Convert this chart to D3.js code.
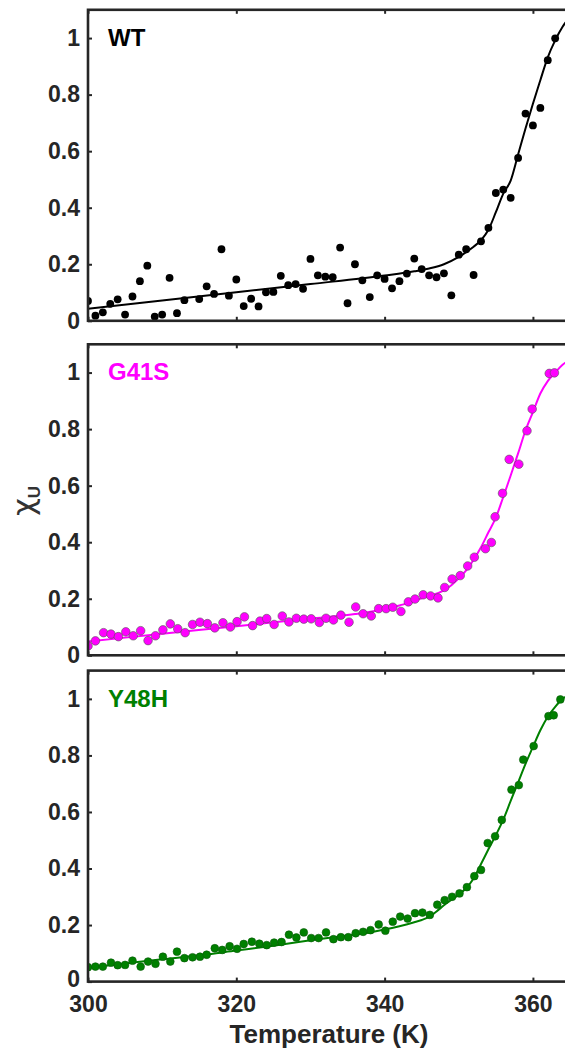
<!DOCTYPE html>
<html>
<head>
<meta charset="utf-8">
<script src="https://cdn.jsdelivr.net/npm/d3@7"></script>
<style>
  html, body { margin: 0; padding: 0; background: #fff; }
  svg { display: block; }
  text { font-family: "Liberation Sans", Arial, sans-serif; }
</style>
</head>
<body>
<svg id="chart" width="565" height="1051"></svg>
<script>
// ---------------- DATA ----------------
const panelNames = ["WT", "G41S", "Y48H"];
const yTicks = [0, 0.2, 0.4, 0.6, 0.8, 1];
const yTickLabels = ["0", "0.2", "0.4", "0.6", "0.8", "1"];
const xTicks = [300, 320, 340, 360];
const xTickLabels = ["300", "320", "340", "360"];
const xLabel = "Temperature (K)";

// WT measured points
const wtT = [300,301,302,303,304,305,306,307,308,309,310,311,312,313,315,316,317,318,319,320,321,322,323,324,325,326,327,328,329,330,331,332,333,334,335,336,337,338,339,340,341,342,343,344,345,346,347,348,349,350,351,352,353,354,355,356,357,358,359,360,361,362,363];
const wtX = [0.070,0.018,0.030,0.060,0.076,0.022,0.086,0.140,0.195,0.015,0.022,0.152,0.027,0.073,0.077,0.122,0.095,0.253,0.089,0.146,0.052,0.078,0.051,0.101,0.102,0.159,0.126,0.130,0.113,0.219,0.161,0.156,0.154,0.259,0.062,0.200,0.143,0.084,0.161,0.148,0.115,0.140,0.167,0.220,0.183,0.161,0.154,0.168,0.090,0.234,0.253,0.162,0.281,0.329,0.452,0.464,0.435,0.576,0.733,0.691,0.753,0.922,0.999];
// WT fitted curve
const wtFitT = [300,310,320,330,340,344,346,348,350,352,353,354,355,356,357,358,359,360,361,362,363,364,365];
const wtFitX = [0.043,0.072,0.101,0.130,0.160,0.175,0.185,0.200,0.226,0.262,0.285,0.322,0.384,0.450,0.496,0.588,0.680,0.768,0.851,0.932,0.992,1.040,1.075];

// G41S measured points
const g41sT = [300.0,301.0,302.1,303.1,304.1,305.1,306.1,307.1,308.1,309.1,310.1,311.1,312.1,313.1,314.1,315.1,316.1,317.1,318.2,319.2,320.1,321.1,322.2,323.2,324.1,325.1,326.2,327.1,328.1,329.1,330.1,331.2,332.1,333.1,334.1,335.2,336.1,337.1,338.2,339.2,340.2,341.1,342.2,343.2,344.1,345.2,346.2,347.2,348.1,349.1,350.2,351.2,352.1,353.6,354.4,354.9,355.9,356.8,358.1,359.2,359.9,362.2,362.9];
const g41sX = [0.033,0.051,0.080,0.075,0.066,0.083,0.069,0.087,0.052,0.069,0.090,0.111,0.094,0.080,0.109,0.117,0.112,0.097,0.115,0.100,0.119,0.136,0.105,0.121,0.130,0.109,0.139,0.118,0.131,0.128,0.129,0.116,0.131,0.125,0.142,0.117,0.171,0.147,0.139,0.165,0.165,0.170,0.155,0.189,0.199,0.214,0.210,0.203,0.240,0.270,0.282,0.316,0.347,0.377,0.399,0.490,0.573,0.693,0.676,0.794,0.871,0.997,0.999];
// G41S fitted curve
const g41sFitT = [300,310,320,330,336,340,342,344,346,348,349,350,351,352,353,354,355,356,357,358,359,360,361,362,363,364,365];
const g41sFitX = [0.049,0.076,0.103,0.130,0.146,0.163,0.176,0.193,0.210,0.230,0.248,0.272,0.300,0.338,0.382,0.435,0.487,0.560,0.636,0.714,0.795,0.860,0.926,0.970,1.000,1.028,1.045];

// Y48H measured points
const y48hT = [300.0,301.0,302.0,303.1,304.0,305.0,306.0,307.1,308.1,309.1,310.1,311.1,312.0,313.0,314.1,315.1,316.0,317.1,318.1,319.1,320.1,321.0,322.1,323.1,324.1,325.1,326.1,327.1,328.1,329.1,330.1,331.1,332.1,333.1,334.1,335.1,336.1,337.1,338.1,339.2,340.1,341.1,342.1,343.1,344.1,345.1,346.1,347.1,348.1,349.1,350.1,351.1,352.1,353.0,353.9,354.9,355.8,357.1,358.1,358.7,360.1,362.1,362.8,363.7];
const y48hX = [0.051,0.053,0.053,0.067,0.058,0.059,0.074,0.053,0.071,0.063,0.088,0.071,0.106,0.083,0.086,0.088,0.095,0.118,0.112,0.125,0.116,0.133,0.141,0.134,0.129,0.138,0.140,0.166,0.156,0.174,0.154,0.154,0.174,0.150,0.157,0.157,0.171,0.176,0.182,0.202,0.180,0.212,0.230,0.223,0.242,0.244,0.236,0.272,0.288,0.300,0.312,0.334,0.373,0.395,0.490,0.514,0.572,0.679,0.695,0.785,0.833,0.939,0.942,0.998];
// Y48H fitted curve
const y48hFitT = [300,305,310,315,320,325,330,335,338,340,342,344,345,346,347,348,349,350,351,352,353,354,355,356,357,358,359,360,361,362,363,364,365];
const y48hFitX = [0.049,0.064,0.079,0.093,0.110,0.127,0.146,0.163,0.174,0.184,0.196,0.210,0.218,0.229,0.248,0.270,0.289,0.307,0.331,0.365,0.416,0.468,0.518,0.573,0.639,0.704,0.770,0.830,0.889,0.937,0.972,1.000,1.015];

// ---------------- LAYOUT ----------------
const svg = d3.select("#chart");
const left = 88, right = 570;
const panelTops = [9.8, 344.3, 670.6];
const panelH = 311;
const colors = ["#000000", "#ff00ff", "#008000"];
const axisColor = "#262626";
const tickFont = 23;

const x = d3.scaleLinear().domain([300, 365]).range([left, right]);

const series = [
  {name: panelNames[0], T: wtT, X: wtX, fT: wtFitT, fX: wtFitX, color: colors[0], r: 3.9, stroke: "none"},
  {name: panelNames[1], T: g41sT, X: g41sX, fT: g41sFitT, fX: g41sFitX, color: colors[1], r: 4.3, stroke: "#555"},
  {name: panelNames[2], T: y48hT, X: y48hX, fT: y48hFitT, fX: y48hFitX, color: colors[2], r: 3.9, stroke: "#0a5a0a"}
];

series.forEach((s, i) => {
  const top = panelTops[i];
  const bottom = top + panelH;
  const y = d3.scaleLinear().domain([0, 1.1]).range([bottom, top]);
  const g = svg.append("g");

  const clipId = "clip" + i;
  svg.append("defs").append("clipPath").attr("id", clipId)
    .append("rect").attr("x", left).attr("y", top).attr("width", right - left).attr("height", panelH);

  const plot = g.append("g").attr("clip-path", `url(#${clipId})`);

  // fit line
  const line = d3.line().x((d) => x(d[0])).y((d) => y(d[1])).curve(d3.curveMonotoneX);
  plot.append("path")
    .datum(s.fT.map((t, k) => [t, s.fX[k]]))
    .attr("d", line)
    .attr("fill", "none")
    .attr("stroke", s.color)
    .attr("stroke-width", 2);

  // points
  plot.selectAll("circle")
    .data(s.T.map((t, k) => [t, s.X[k]]))
    .join("circle")
    .attr("cx", (d) => x(d[0]))
    .attr("cy", (d) => y(d[1]))
    .attr("r", s.r)
    .attr("fill", s.color)
    .attr("stroke", s.stroke)
    .attr("stroke-width", s.stroke === "none" ? 0 : 0.6);

  // axes
  const yAx = d3.axisLeft(y).tickValues(yTicks).tickFormat((d, k) => yTickLabels[k])
    .tickSizeInner(-4).tickSizeOuter(0).tickPadding(8);
  const gy = g.append("g").attr("transform", `translate(${left},0)`).call(yAx);
  gy.select(".domain").remove();
  gy.selectAll("line").attr("stroke", axisColor).attr("stroke-width", 2);
  gy.selectAll("text").attr("fill", axisColor).attr("font-size", tickFont).attr("font-weight", "bold")
    .attr("font-family", "Liberation Sans, Arial, sans-serif");
  if (i === 2) {
    // nudge the bottom "0" slightly up so it clears the "300" below
    gy.selectAll(".tick").filter((d) => d === 0).select("text").attr("y", -2);
  }

  const yAxR = d3.axisRight(y).tickValues(yTicks).tickFormat("").tickSizeInner(-4).tickSizeOuter(0);
  const gyr = g.append("g").attr("transform", `translate(${right},0)`).call(yAxR);
  gyr.select(".domain").remove();
  gyr.selectAll("line").attr("stroke", axisColor).attr("stroke-width", 2);

  const xAx = d3.axisBottom(x).tickValues(xTicks)
    .tickFormat((d, k) => (i === 2 ? xTickLabels[k] : ""))
    .tickSizeInner(-4).tickSizeOuter(0).tickPadding(14.5);
  const gx = g.append("g").attr("transform", `translate(0,${bottom})`).call(xAx);
  gx.select(".domain").remove();
  gx.selectAll("line").attr("stroke", axisColor).attr("stroke-width", 2);
  gx.selectAll("text").attr("fill", axisColor).attr("font-size", tickFont).attr("font-weight", "bold")
    .attr("font-family", "Liberation Sans, Arial, sans-serif");

  const xAxT = d3.axisTop(x).tickValues(xTicks).tickFormat("").tickSizeInner(-4).tickSizeOuter(0);
  const gxt = g.append("g").attr("transform", `translate(0,${top})`).call(xAxT);
  gxt.select(".domain").remove();
  gxt.selectAll("line").attr("stroke", axisColor).attr("stroke-width", 2);

  // frame
  g.append("rect")
    .attr("x", left).attr("y", top)
    .attr("width", right - left).attr("height", panelH)
    .attr("fill", "none").attr("stroke", axisColor).attr("stroke-width", 2.6);

  // panel label
  g.append("text")
    .attr("x", left + 20).attr("y", top + 36)
    .attr("fill", s.color)
    .attr("font-size", 24).attr("font-weight", "bold")
    .text(s.name);
});

// x label
svg.append("text")
  .attr("x", (left + right) / 2).attr("y", 1043)
  .attr("text-anchor", "middle")
  .attr("fill", axisColor)
  .attr("font-size", 26).attr("font-weight", "bold")
  .text(xLabel);

// y label  χ_U
const yl = svg.append("text")
  .attr("transform", "translate(34,501) rotate(-90)")
  .attr("text-anchor", "middle")
  .attr("fill", "#333");
yl.append("tspan").attr("font-family", "DejaVu Sans, sans-serif").attr("font-size", 31).text("χ");
yl.append("tspan").attr("font-size", 17).attr("font-weight", "bold").attr("dy", 6).text("U");
</script>
</body>
</html>
